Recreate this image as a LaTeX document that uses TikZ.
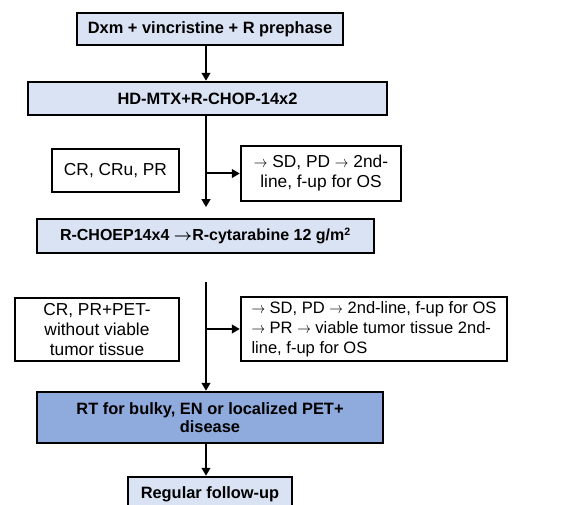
\documentclass[tikz,border=0pt]{standalone}
\usepackage{amsmath}
\usepackage{fontspec}
\setmainfont{Liberation Sans}
\usetikzlibrary{arrows.meta}
\definecolor{paleblue}{RGB}{218,227,243}
\definecolor{midblue}{RGB}{143,170,220}
\newcommand{\ra}{\scalebox{0.85}[1]{$\rightarrow$}}
\begin{document}
\begin{tikzpicture}[x=0.75pt, y=-0.75pt,
    box/.style={draw, line width=1.8pt, inner sep=2pt, align=center, font=\fontsize{13}{15}\selectfont},
    stepbox/.style={box, fill=paleblue, font=\fontsize{12.3}{13.3}\selectfont\bfseries},
    flow/.style={-{Triangle[length=6pt, width=6.5pt]}, line width=1.5pt}]
    \clip (0,0) rectangle (582,505);
    \coordinate (t) at (206,0);
    \node[stepbox, minimum width=266*0.75pt, minimum height=32*0.75pt] (pre) at (210,29) {Dxm + vincristine + R prephase};
    \node[stepbox, minimum width=359*0.75pt, minimum height=33*0.75pt] (hd) at (207.5,98.5) {HD-MTX+R-CHOP-14x2};
    \node[box, minimum width=127*0.75pt, minimum height=43*0.75pt] (resa) at (115.5,170.5) {CR, CRu, PR};
    \node[box, minimum width=160*0.75pt, minimum height=55*0.75pt] (proga) at (321,173.5) {\ra{} SD, PD \ra{} 2nd-\\line, f-up for OS};
    \node[stepbox, minimum width=337*0.75pt, minimum height=34*0.75pt, font=\fontsize{12}{13.3}\selectfont\bfseries] (choep) at (205.5,236) {R-CHOEP14x4 $\boldsymbol{\rightarrow}$R-cytarabine 12 g/m\textsuperscript{2}};
    \node[box, minimum width=164*0.75pt, minimum height=63*0.75pt] (resb) at (97,329.5) {CR, PR+PET-\\without viable\\tumor tissue};
    \node[box, minimum width=266*0.75pt, minimum height=64*0.75pt, align=left, font=\fontsize{12.4}{15}\selectfont] (progb) at (374,329) {\ra{} SD, PD \ra{} 2nd-line, f-up for OS\\\ra{} PR \ra{} viable tumor tissue 2nd-\\line, f-up for OS};
    \node[stepbox, fill=midblue, minimum width=346*0.75pt, minimum height=51*0.75pt] (rt) at (210,417.5) {RT for bulky, EN or localized PET+\\disease};
    \node[stepbox, minimum width=164*0.75pt, minimum height=34*0.75pt] (fu) at (210,494) {Regular follow-up};
    \coordinate (top) at (206,282);
    \draw[flow] (pre.south -| t) -- (hd.north -| t);
    \draw[flow, shorten >=8pt] (hd.south -| t) -- (choep.north -| t);
    \draw[flow] (t |- proga.west) -- (proga.west);
    \draw[flow] (top) -- (rt.north -| t);
    \draw[flow] (t |- progb.west) -- (progb.west);
    \draw[flow] (rt.south -| t) -- (fu.north -| t);
\end{tikzpicture}
\end{document}
